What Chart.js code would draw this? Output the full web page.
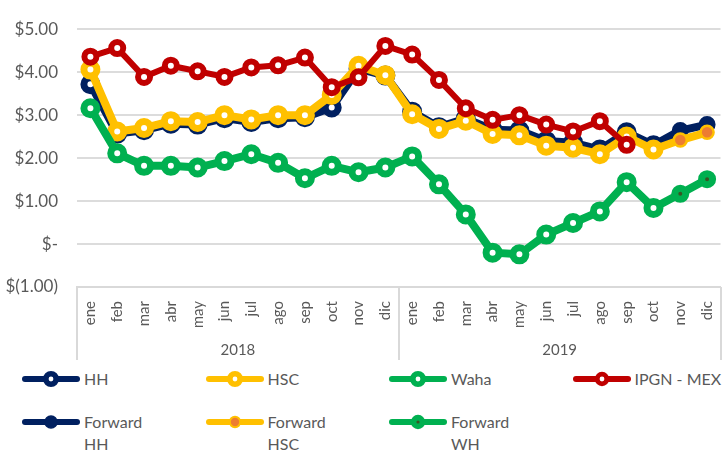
<!DOCTYPE html>
<html lang="es">
<head>
<meta charset="utf-8">
<title>Precios de gas</title>
<script src="https://cdn.jsdelivr.net/npm/chart.js@4.4.1/dist/chart.umd.min.js"></script>
<style>
  html, body { margin: 0; padding: 0; overflow: hidden; background: #fff; }
  body { width: 726px; height: 454px; position: relative; font-family: Lato, sans-serif; }
  #grafico { position: absolute; left: 0; top: 0; }
  #leyenda {
    position: absolute; left: 22px; top: 368px;
    display: grid; grid-template-columns: repeat(4, 183.5px);
    color: #595959; font-size: 16px;
  }
  .item { display: flex; align-items: flex-start; height: 43px; }
  .item svg { flex: none; margin-top: 3px; }
  .item span { margin-left: 4px; white-space: pre-line; line-height: 22px; }
</style>
</head>
<body>
<canvas id="grafico" width="734" height="362"></canvas>
<div id="leyenda"></div>
<script>
// datos (US$/MMBtu)
const meses = ['ene', 'feb', 'mar', 'abr', 'may', 'jun', 'jul', 'ago', 'sep', 'oct', 'nov', 'dic',
               'ene', 'feb', 'mar', 'abr', 'may', 'jun', 'jul', 'ago', 'sep', 'oct', 'nov', 'dic'];
const anios = ['2018', '2019'];

const hh    = [3.72, 2.57, 2.65, 2.80, 2.78, 2.93, 2.84, 2.93, 2.95, 3.18, 4.08, 3.92,
               3.08, 2.72, 2.92, 2.66, 2.64, 2.40, 2.36, 2.20, 2.60, 2.30, null, null];
const hsc   = [4.06, 2.62, 2.70, 2.86, 2.84, 3.00, 2.90, 3.00, 3.00, 3.47, 4.15, 3.93,
               3.02, 2.68, 2.87, 2.56, 2.53, 2.29, 2.24, 2.09, 2.50, 2.20, null, null];
const waha  = [3.16, 2.11, 1.82, 1.82, 1.78, 1.93, 2.09, 1.89, 1.53, 1.82, 1.67, 1.78,
               2.04, 1.39, 0.69, -0.20, -0.24, 0.22, 0.49, 0.76, 1.44, 0.84, null, null];
const ipgn  = [4.36, 4.56, 3.89, 4.15, 4.02, 3.89, 4.11, 4.16, 4.34, 3.65, 3.88, 4.61,
               4.41, 3.82, 3.16, 2.89, 3.00, 2.78, 2.62, 2.86, 2.31, null, null, null];
// forward: arranca en el ultimo dato real (oct 2019)
const fwdHH  = [null, null, null, null, null, null, null, null, null, null, null, null,
                null, null, null, null, null, null, null, null, null, 2.30, 2.64, 2.78];
const fwdHSC = [null, null, null, null, null, null, null, null, null, null, null, null,
                null, null, null, null, null, null, null, null, null, 2.20, 2.42, 2.60];
const fwdWH  = [null, null, null, null, null, null, null, null, null, null, null, null,
                null, null, null, null, null, null, null, null, null, 0.84, 1.17, 1.51];

const gris = '#595959';
const azul = '#002060', amarillo = '#FFC000', verde = '#00B050', rojo = '#C00000';

function radioFwd(datos, r) {
  // sin marcador en el punto de enlace
  const primero = datos.findIndex(v => v !== null);
  return datos.map((v, i) => (i === primero ? 0 : r));
}

function serie(label, datos, color, ancho, relleno, r, borde, orden) {
  return {
    label: label, data: datos, borderColor: color, borderWidth: ancho,
    borderJoinStyle: 'round', borderCapStyle: 'round',
    pointRadius: r, pointBorderWidth: borde, pointBorderColor: color,
    pointBackgroundColor: relleno, pointHoverRadius: r,
    tension: 0, order: orden, spanGaps: false,
    leyenda: { r: Array.isArray(r) ? r[r.length - 1] : r, borde: borde, relleno: relleno }
  };
}

function dinero(v) {
  if (v === 0) return '$-';
  if (v < 0) return '$(' + Math.abs(v).toFixed(2) + ')';
  return '$' + v.toFixed(2);
}

const separadores = {
  id: 'separadores',
  afterDraw(chart) {
    const s = chart.scales.x2;
    const c = chart.ctx;
    c.save();
    c.strokeStyle = '#d9d9d9';
    c.lineWidth = 2;
    for (let i = 0; i <= anios.length; i++) {
      const x = Math.round(s.getPixelForValue(i * 12 - 0.5));
      c.beginPath();
      c.moveTo(x, chart.chartArea.bottom);
      c.lineTo(x, s.bottom);
      c.stroke();
    }
    c.restore();
  }
};

document.addEventListener('DOMContentLoaded', function() {
  const ctx = document.getElementById('grafico').getContext('2d');
  const chart = new Chart(ctx, {
    type: 'line',
    data: {
      labels: meses,
      datasets: [
        serie('HH', hh, azul, 8, '#ffffff', 6.5, 7, 4),
        serie('HSC', hsc, amarillo, 8, '#ffffff', 6.5, 7, 3),
        serie('Waha', waha, verde, 8, '#ffffff', 6.5, 7, 2),
        serie('IPGN - MEX', ipgn, rojo, 6, '#ffffff', 6, 6, 1),
        serie('Forward HH', fwdHH, azul, 8, azul, radioFwd(fwdHH, 7.5), 2, 4),
        serie('Forward HSC', fwdHSC, amarillo, 8, '#ED7D31', radioFwd(fwdHSC, 6.5), 2.5, 3),
        serie('Forward WH', fwdWH, verde, 8, '#375623', radioFwd(fwdWH, 5.5), 7, 2)
      ]
    },
    options: {
      responsive: false,
      animation: false,
      events: [],
      layout: { padding: { top: 6, right: 0, bottom: 2, left: 0 } },
      plugins: {
        legend: { display: false },
        tooltip: { enabled: false }
      },
      scales: {
        x: {
          type: 'category',
          offset: true,
          grid: { display: false },
          border: { color: '#d9d9d9', width: 2 },
          ticks: {
            autoSkip: false, minRotation: 90, maxRotation: 90, padding: 6,
            color: gris, font: { family: 'Lato', size: 15 }
          },
          afterFit: function(s) { s.height = 40; }
        },
        x2: {
          type: 'linear',
          position: 'bottom',
          min: -0.5,
          max: 23.5,
          grid: { display: false },
          border: { display: false },
          afterBuildTicks: function(s) {
            s.ticks = anios.map((a, i) => ({ value: i * 12 + 5.5 }));
          },
          ticks: {
            padding: 6, minRotation: 0, maxRotation: 0,
            color: gris, font: { family: 'Lato', size: 15 },
            callback: (v, i) => anios[i]
          },
          afterFit: function(s) { s.height = 33; }
        },
        y: {
          min: -1,
          max: 5,
          border: { display: false },
          grid: { color: '#dcdcdc', lineWidth: 2, drawTicks: false },
          ticks: {
            stepSize: 1, padding: 19,
            color: gris, font: { family: 'Lato', size: 17 },
            callback: dinero
          },
          afterFit: function(s) { s.width = 77; }
        }
      }
    },
    plugins: [separadores]
  });

  // leyenda en HTML, como en el original (texto partido en dos lineas)
  const leyenda = document.getElementById('leyenda');
  chart.data.datasets.forEach(function(d) {
    const m = d.leyenda;
    const r = m.r * 0.8, b = m.borde * 0.8;
    const item = document.createElement('div');
    item.className = 'item';
    item.innerHTML =
      '<svg width="58" height="16" viewBox="0 0 58 16">' +
      '<line x1="3" y1="8" x2="55" y2="8" stroke="' + d.borderColor + '" stroke-width="6" stroke-linecap="round"/>' +
      '<circle cx="29" cy="8" r="' + r + '" fill="' + m.relleno + '" stroke="' + d.borderColor + '" stroke-width="' + b + '"/>' +
      '</svg><span></span>';
    item.querySelector('span').textContent = d.label.replace('Forward ', 'Forward\n ');
    leyenda.appendChild(item);
  });
});
</script>
</body>
</html>
